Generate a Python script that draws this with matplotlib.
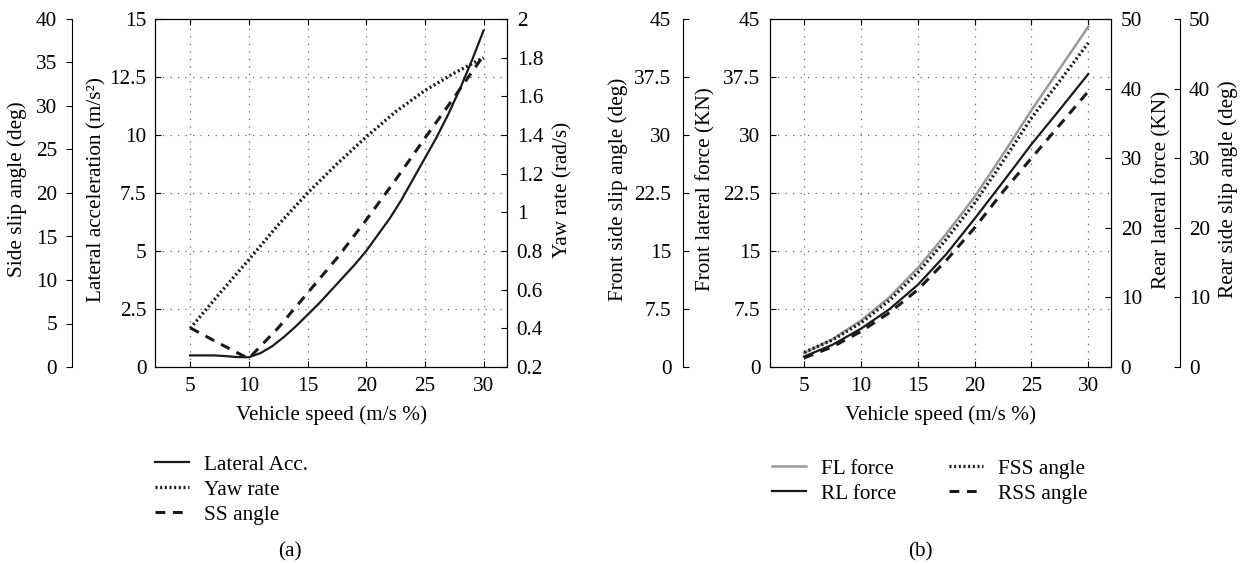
import matplotlib
matplotlib.use("Agg")
from matplotlib import pyplot as plt
from matplotlib.ticker import FuncFormatter

plt.rcParams['font.family'] = ['Liberation Serif', 'DejaVu Serif']
plt.rcParams['font.size'] = 15.3

# ---- panel (a) data ----
speed_a = [5, 6, 7, 8, 9, 10, 11, 12, 13, 14, 15, 16, 17, 18, 19, 20,
           21, 22, 23, 24, 25, 26, 27, 28, 29, 30]
lat_acc = [0.5, 0.5, 0.5, 0.47, 0.43, 0.42, 0.6, 0.9, 1.3, 1.75, 2.25, 2.75, 3.3, 3.85, 4.4, 5.0,
           5.7, 6.4, 7.2, 8.1, 9.0, 9.9, 10.9, 12.0, 13.2, 14.5]

speed_yaw = [5, 7.5, 10, 12.5, 15, 17.5, 20, 22.5, 25, 27.5, 30]
yaw_rate = [0.40, 0.58, 0.755, 0.935, 1.10, 1.25, 1.39, 1.52, 1.63, 1.72, 1.80]

speed_ss = [5, 7.5, 9.5, 10, 12.5, 15, 17.5, 20, 22.5, 25, 27.5, 30]
ss_angle = [4.5, 2.7, 1.3, 1.0, 4.5, 8.5, 12.5, 16.9, 21.5, 26.3, 31.0, 35.8]

# ---- panel (b) data ----
speed_b = [5, 7.5, 10, 12.5, 15, 17.5, 20, 22.5, 25, 27.5, 30]
fl_force = [1.8, 3.6, 6.0, 9.0, 12.8, 17.2, 22.0, 27.5, 33.2, 38.6, 44.0]
fss_angle = [1.9, 3.5, 5.7, 8.6, 12.2, 16.5, 21.2, 26.6, 32.2, 37.0, 41.9]
rl_force = [1.5, 3.2, 5.5, 8.3, 11.8, 16.2, 21.3, 26.6, 32.0, 37.0, 42.1]
rss_angle = [1.3, 2.9, 5.1, 7.8, 11.1, 15.3, 20.0, 25.2, 30.0, 34.8, 39.6]

x_ticks = [5, 10, 15, 20, 25, 30]

DOT = (0, (0.6, 0.8))
DASH = (0, (3.2, 2.5))
fmt = FuncFormatter(lambda v, p: '%g' % round(v, 2))
W, H = 1242, 565


def px_axes(left, right):
    return [left / W, (H - 367) / H, (right - left) / W, 348 / H]


def style_main(ax, ylim, yticks, pad_l):
    ax.set_xlim(2, 32)
    ax.set_xticks(x_ticks)
    ax.set_ylim(*ylim)
    ax.set_yticks(yticks)
    ax.yaxis.set_major_formatter(fmt)
    ax.tick_params(direction='in', length=4, top=True, right=False, pad=7)
    ax.tick_params(axis='y', pad=pad_l)
    ax.grid(True, color='#666666', linestyle=(0, (1, 5)), linewidth=0.9)
    ax.set_xlabel('Vehicle speed (m/s %)', labelpad=7)


def outer_axis(ax, side, offset_pt, direction, pad):
    tw = ax.twinx()
    for s in tw.spines.values():
        s.set_visible(False)
    tw.spines[side].set_visible(True)
    tw.spines[side].set_position(('outward', offset_pt))
    tw.yaxis.set_ticks_position(side)
    tw.yaxis.set_label_position(side)
    tw.tick_params(axis='y', direction=direction, length=4, pad=pad)
    return tw


fig = plt.figure(figsize=(W / 100, H / 100), dpi=100)

# ===== (a) =====
ax = fig.add_axes(px_axes(155, 507))
style_main(ax, (0, 15), [0, 2.5, 5, 7.5, 10, 12.5, 15], 6)
ax.set_ylabel('Lateral acceleration (m/s²)', va='center')
ax.yaxis.set_label_coords(-0.165, 0.51)

ax_yaw = ax.twinx()
ax_yaw.set_ylim(0.2, 2)
ax_yaw.set_yticks([0.2, 0.4, 0.6, 0.8, 1, 1.2, 1.4, 1.6, 1.8, 2])
ax_yaw.yaxis.set_major_formatter(fmt)
ax_yaw.tick_params(direction='in', length=4, pad=7)
ax_yaw.set_ylabel('Yaw rate (rad/s)', va='center')
ax_yaw.yaxis.set_label_coords(1.159, 0.51)

ax_ss = outer_axis(ax, 'left', 60, 'out', 6.5)
ax_ss.set_ylim(0, 40)
ax_ss.set_yticks(range(0, 41, 5))
ax_ss.set_ylabel('Side slip angle (deg)', va='center')
ax_ss.yaxis.set_label_coords(-0.392, 0.51)

l1, = ax.plot(speed_a, lat_acc, color='#1a1a1a', lw=1.6, label='Lateral Acc.')
l2, = ax_yaw.plot(speed_yaw, yaw_rate, color='#1a1a1a', lw=2.4, linestyle=DOT, label='Yaw rate')
l3, = ax_ss.plot(speed_ss, ss_angle, color='#1a1a1a', lw=2.2, linestyle=DASH, label='SS angle')

fig.legend(handles=[l1, l2, l3], loc='upper left', bbox_to_anchor=(155 / W, 1 - 455 / H),
           frameon=False, borderpad=0, borderaxespad=0, handlelength=1.6,
           handletextpad=0.7, labelspacing=0.24)
fig.text(290 / W, 1 - 552 / H, '(a)', ha='center', va='center')

# ===== (b) =====
bx = fig.add_axes(px_axes(770, 1111))
style_main(bx, (0, 45), [0, 7.5, 15, 22.5, 30, 37.5, 45], 7)
bx.set_ylabel('Front lateral force (KN)', va='center')
bx.yaxis.set_label_coords(-0.188, 0.51)

bx_rf = bx.twinx()
bx_rf.set_ylim(0, 50)
bx_rf.set_yticks(range(0, 51, 10))
bx_rf.tick_params(direction='in', length=4, pad=7)
bx_rf.set_ylabel('Rear lateral force (KN)', va='center')
bx_rf.yaxis.set_label_coords(1.150, 0.51)

bx_fs = outer_axis(bx, 'left', 63, 'in', 8)
bx_fs.set_ylim(0, 45)
bx_fs.set_yticks([0, 7.5, 15, 22.5, 30, 37.5, 45])
bx_fs.yaxis.set_major_formatter(fmt)
bx_fs.set_ylabel('Front side slip angle (deg)', va='center')
bx_fs.yaxis.set_label_coords(-0.446, 0.51)

bx_rs = outer_axis(bx, 'right', 50, 'in', 6)
bx_rs.set_ylim(0, 50)
bx_rs.set_yticks(range(0, 51, 10))
bx_rs.set_ylabel('Rear side slip angle (deg)', va='center')
bx_rs.yaxis.set_label_coords(1.343, 0.51)

m1, = bx.plot(speed_b, fl_force, color='#999999', lw=1.8, label='FL force')
m2, = bx_rf.plot(speed_b, rl_force, color='#1a1a1a', lw=1.6, label='RL force')
m3, = bx_fs.plot(speed_b, fss_angle, color='#1a1a1a', lw=2.4, linestyle=DOT, label='FSS angle')
m4, = bx_rs.plot(speed_b, rss_angle, color='#1a1a1a', lw=2.2, linestyle=DASH, label='RSS angle')

fig.legend(handles=[m1, m2, m3, m4], loc='upper left', ncol=2,
           bbox_to_anchor=(772 / W, 1 - 459 / H), frameon=False, borderpad=0,
           borderaxespad=0, handlelength=1.6, handletextpad=0.7,
           labelspacing=0.24, columnspacing=2.5)
fig.text(920 / W, 1 - 552 / H, '(b)', ha='center', va='center')

fig.savefig('out.png', dpi=100)
